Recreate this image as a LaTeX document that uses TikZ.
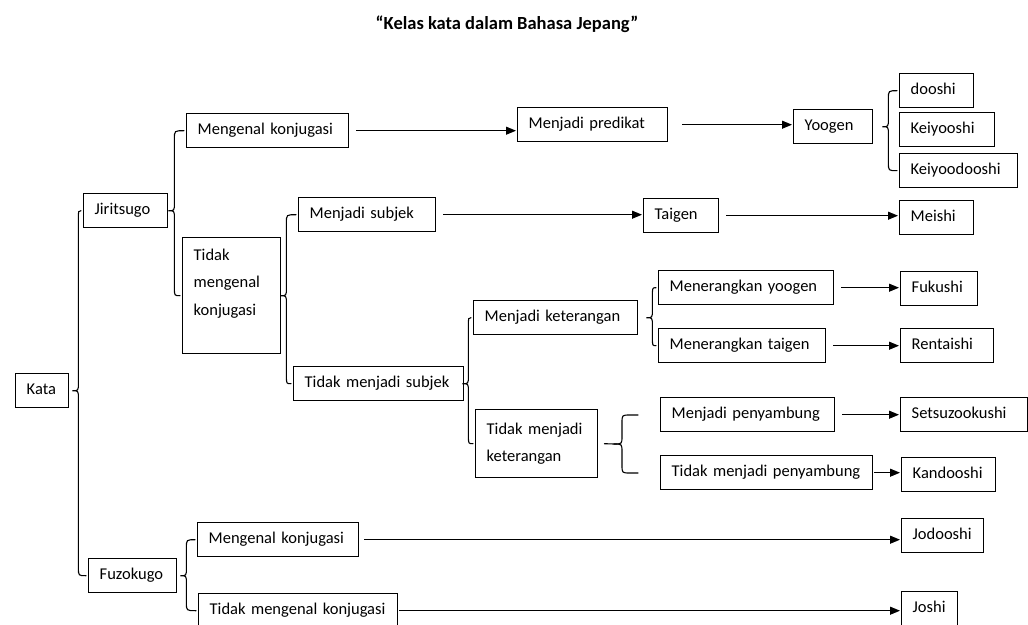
\documentclass[tikz,border=0pt]{standalone}
\usepackage{fontspec}
\setmainfont{Carlito}
\usetikzlibrary{arrows.meta,calc}

%% curly brace from a parent box to its upper and lower child
\newcommand{\curlylink}[4]{%
  \draw[curly] let \p1=(#1.east), \p2=(#2.west), \p3=(#3.west),
      \p4=($(#1.east)+(#4,0)$) in
    (\x2-2bp,\y2) .. controls (\x4,\y2) .. (\x4,\y2-8bp)
    -- (\x4,\y1+8bp) .. controls (\x4,\y1) .. (\x4-6bp,\y1)
    .. controls (\x4,\y1) .. (\x4,\y1-8bp)
    -- (\x4,\y3+8bp) .. controls (\x4,\y3) .. (\x3-2bp,\y3);}

\begin{document}
\begin{tikzpicture}[x=1bp,y=-1bp,
    font=\fontsize{16.5bp}{27.5bp}\selectfont,
    box/.style={draw, line width=1.4bp, text width=#1, inner xsep=11bp,
        inner ysep=0pt, text height=11.5bp, text depth=3.5bp,
        minimum height=34bp, anchor=north west, align=left},
    tallbox/.style={draw, line width=1.4bp, text width=#1, inner xsep=11bp,
        anchor=north west, align=left},
    link/.style={line width=1.1bp, -{Triangle[length=10bp,width=8bp]},
        shorten <=7bp, shorten >=1bp},
    curly/.style={line width=1.1bp, line cap=round}]
    \useasboundingbox (0,0) rectangle (1028,625);
    \clip (0,0) rectangle (1028,625);
    %% Title
    \node[font=\fontsize{18.5bp}{22bp}\bfseries] (title) at (507,24)
        {“Kelas kata dalam Bahasa Jepang”};
    %% Root and first level
    \node[box=31bp] (kata) at (15,373) {Kata};
    \node[box=62bp] (jiri) at (83,193) {Jiritsugo};
    \node[box=66bp] (fuzo) at (88,558) {Fuzokugo};
    %% Jiritsugo branch
    \node[box=140bp] (mk1) at (186,113) {Mengenal konjugasi};
    \node[tallbox=76bp, minimum height=116bp] (tmk1) at (182,237)
        {Tidak\\mengenal\\konjugasi\\\mbox{}};
    \node[box=128bp] (mpred) at (517,107) {Menjadi predikat};
    \node[box=57bp] (yoogen) at (793,109) {Yoogen};
    \node[box=52bp] (dooshi) at (899,73) {dooshi};
    \node[box=73bp] (keiyooshi) at (899,112) {Keiyooshi};
    \node[box=96bp] (keiyoodooshi) at (899,153) {Keiyoodooshi};
    \node[box=115bp] (msubj) at (298,197) {Menjadi subjek};
    \node[box=53bp] (taigen) at (643,198) {Taigen};
    \node[box=52bp] (meishi) at (899,200) {Meishi};
    \node[box=148bp] (tmsubj) at (293,366) {Tidak menjadi subjek};
    \node[box=142bp] (mket) at (473,300) {Menjadi keterangan};
    \node[tallbox=100bp, minimum height=68bp] (tmket) at (475,409)
        {Tidak menjadi\\keterangan};
    \node[box=153bp] (myoogen) at (658,270) {Menerangkan yoogen};
    \node[box=145bp] (mtaigen) at (658,328) {Menerangkan taigen};
    \node[box=152bp] (mpeny) at (660,397) {Menjadi penyambung};
    \node[box=190bp] (tmpeny) at (660,455) {Tidak menjadi penyambung};
    \node[box=55bp] (fukushi) at (900,271) {Fukushi};
    \node[box=71bp] (rentaishi) at (900,328) {Rentaishi};
    \node[box=105bp] (setsu) at (900,397) {Setsuzookushi};
    \node[box=72bp] (kandooshi) at (901,457) {Kandooshi};
    %% Fuzokugo branch
    \node[box=139bp] (mk2) at (197,522) {Mengenal konjugasi};
    \node[box=177bp] (tmk2) at (198,593) {Tidak mengenal konjugasi};
    \node[box=60bp] (jodooshi) at (901,518) {Jodooshi};
    \node[box=34bp] (joshi) at (901,591) {Joshi};
    %% Braces
    \curlylink{kata}{jiri}{fuzo}{9}
    \curlylink{jiri}{mk1}{tmk1}{6}
    \curlylink{tmk1}{msubj}{tmsubj}{5}
    \curlylink{tmsubj}{mket}{tmket}{4}
    \curlylink{mket}{myoogen}{mtaigen}{14}
    \curlylink{yoogen}{dooshi}{keiyoodooshi}{15}
    \curlylink{fuzo}{mk2}{tmk2}{9}
    \coordinate (tmket top) at (638,415);
    \coordinate (tmket bottom) at (638,473);
    \draw[curly] ([xshift=6bp]tmket.east) -- (614,444)
        .. controls (622,444) .. (622,436) -- (622,423)
        .. controls (622,415) .. (630,415) -- (tmket top);
    \draw[curly] (614,444) .. controls (622,444) .. (622,452) -- (622,465)
        .. controls (622,473) .. (630,473) -- (tmket bottom);
    %% Arrows
    \draw[link] (mk1.east) -- (mk1.east -| mpred.west);
    \draw[link, shorten <=14bp] (mpred.east) -- (mpred.east -| yoogen.west);
    \draw[link] (msubj.east) -- (msubj.east -| taigen.west);
    \draw[link] (taigen.east) -- (taigen.east -| meishi.west);
    \draw[link] (myoogen.east) -- (myoogen.east -| fukushi.west);
    \draw[link] (mtaigen.east) -- (mtaigen.east -| rentaishi.west);
    \draw[link] (mpeny.east) -- (mpeny.east -| setsu.west);
    \draw[link, shorten <=1bp] (tmpeny.east) -- (tmpeny.east -| kandooshi.west);
    \draw[link, shorten <=5bp] (mk2.east) -- (mk2.east -| jodooshi.west);
    \draw[link, shorten <=1bp] (tmk2.east) -- (tmk2.east -| joshi.west);
\end{tikzpicture}
\end{document}
